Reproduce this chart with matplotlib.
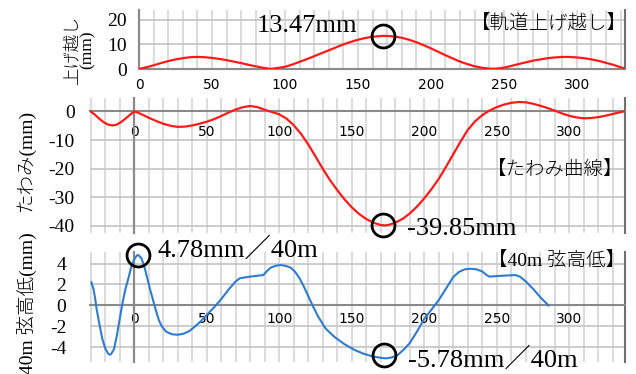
import matplotlib
matplotlib.use('Agg')
import matplotlib.pyplot as plt
import numpy as np

# ---------------- data ----------------
camber_x = [0, 5, 10, 15, 20, 25, 30, 35, 40, 45, 50, 55, 60, 65, 70, 75, 80, 85, 90, 95, 100, 105,
            110, 115, 120, 125, 130, 135, 140, 145, 150, 155, 160, 165, 168, 170, 175, 180, 185, 190,
            195, 200, 205, 210, 215, 220, 225, 230, 235, 240, 244, 248, 252, 256, 260, 265, 270, 275,
            280, 285, 290, 295, 300, 305, 310, 315, 320, 325, 330, 333]
camber_y = [0.0, 0.7, 1.5, 2.4, 3.2, 3.9, 4.4, 4.8, 4.9, 4.8, 4.5, 4.1, 3.6, 3.0, 2.4, 1.7, 1.1, 0.5,
            0.05, 0.4, 0.9, 1.8, 2.9, 4.0, 5.2, 6.4, 7.6, 8.8, 10.0, 11.0, 11.9, 12.6, 13.1, 13.4, 13.47,
            13.45, 13.2, 12.7, 11.9, 10.9, 9.7, 8.4, 7.0, 5.6, 4.3, 3.0, 2.0, 1.1, 0.5, 0.15, 0.1, 0.35,
            0.8, 1.4, 2.0, 2.7, 3.4, 3.9, 4.4, 4.7, 4.9, 4.9, 4.7, 4.4, 3.9, 3.3, 2.5, 1.7, 0.7, 0.2]

defl_x = [-30, -27, -24, -21, -18, -15, -12, -9, -6, -3, 0, 3, 6, 10, 15, 20, 25, 30, 35, 40, 45, 50,
          55, 60, 65, 70, 75, 80, 85, 90, 95, 100, 105, 110, 115, 120, 125, 130, 135, 140, 145, 150,
          155, 160, 165, 170, 173, 176, 180, 185, 190, 195, 200, 205, 210, 215, 220, 225, 230, 235,
          240, 245, 250, 255, 260, 265, 270, 275, 280, 285, 290, 295, 300, 305, 310, 315, 320, 325,
          330, 335, 338]
defl_y = [0.0, -1.2, -2.6, -3.8, -4.6, -4.9, -4.6, -3.7, -2.5, -1.2, 0.0, -0.5, -1.2, -2.2, -3.3, -4.3,
          -5.0, -5.4, -5.3, -4.9, -4.3, -3.6, -2.7, -1.6, -0.4, 0.7, 1.5, 1.9, 1.5, 0.6, -0.2, -1.0,
          -2.5, -4.8, -7.8, -11.5, -15.7, -20.0, -24.0, -27.5, -30.7, -33.5, -35.8, -37.6, -38.9,
          -39.7, -39.85, -39.6, -38.9, -37.6, -35.7, -33.3, -30.4, -27.2, -23.6, -19.4, -15.0, -10.6,
          -6.5, -3.5, -1.3, 0.3, 1.5, 2.4, 3.0, 3.3, 3.2, 2.7, 2.0, 1.2, 0.3, -0.7, -1.5, -2.1, -2.4,
          -2.3, -2.0, -1.5, -0.9, -0.3, 0.1]

chord_x = [-29.5, -28, -27, -26, -24, -22, -20, -18, -17, -16, -14, -12, -10, -8, -6, -4, -2, 0, 2, 3,
           5, 7, 9, 11, 13, 15, 17, 19, 22, 26, 30, 34, 38, 42, 46, 50, 55, 60, 65, 70, 73, 80, 89, 91,
           94, 98, 101, 105, 108, 111, 114, 117, 120, 123, 127, 132, 138, 145, 152, 158, 164, 170,
           174, 178, 182, 186, 190, 195, 200, 205, 210, 215, 220, 224, 228, 232, 236, 240, 243, 245,
           250, 256, 263, 266, 270, 275, 280, 285.7]
chord_y = [2.2, 1.5, 0.7, -0.3, -1.8, -3.2, -4.1, -4.6, -4.7, -4.65, -4.2, -2.9, -1.3, 0.3, 1.6, 2.6,
           3.7, 4.4, 4.8, 4.8, 4.5, 3.7, 2.6, 1.5, 0.5, -0.5, -1.4, -2.0, -2.5, -2.75, -2.8, -2.7,
           -2.45, -2.0, -1.5, -0.9, -0.2, 0.6, 1.5, 2.3, 2.6, 2.75, 2.9, 3.2, 3.6, 3.8, 3.86, 3.75,
           3.6, 3.2, 2.6, 1.8, 0.9, 0.0, -1.1, -2.2, -3.0, -3.7, -4.25, -4.6, -4.85, -5.0, -5.05,
           -4.95, -4.7, -4.2, -3.6, -2.5, -1.3, -0.4, 0.5, 1.6, 2.7, 3.2, 3.45, 3.5, 3.45, 3.25, 2.9,
           2.75, 2.8, 2.85, 2.9, 2.75, 2.3, 1.6, 0.8, 0.0]

xtick_vals = [0, 50, 100, 150, 200, 250, 300]
xtick_labels = ['0', '50', '100', '150', '200', '250', '300']

camber_yticks = [0, 10, 20]
camber_ylabels = ['0', '10', '20']
defl_yticks = [0, -10, -20, -30, -40]
defl_ylabels = ['0', '-10', '-20', '-30', '-40']
chord_yticks = [4, 2, 0, -2, -4]
chord_ylabels = ['4', '2', '0', '-2', '-4']

camber_peak = (167, 13.3)
defl_peak = (171.5, -39.6)
chord_max = (2.3, 4.8)
chord_min = (172, -4.72)

# ---------------- style ----------------
W, H = 636, 374
SERIF = ['Liberation Serif', 'Noto Sans CJK JP']
RED = '#ff1a1a'
BLUE = '#2e7bcf'
AXC = '#8a8a8a'


def fx(px):
    return px / W


def fy(py):
    return 1 - py / H


fig = plt.figure(figsize=(6.36, 3.74), dpi=100)


def make_axes(left, top, right, bottom):
    return fig.add_axes([fx(left), fy(bottom), fx(right) - fx(left), (bottom - top) / H])


def style(ax, xlim, ylim, yticks, ylabels, minor_start, xpad, ypad, xcolor):
    ax.set_xlim(*xlim)
    ax.set_ylim(*ylim)
    ax.set_xticks(xtick_vals)
    ax.set_xticklabels(xtick_labels, fontsize=6.5, color=xcolor, family='DejaVu Sans')
    ax.set_xticks(np.arange(minor_start, xlim[1], 10), minor=True)
    ax.set_yticks(yticks)
    ax.set_yticklabels(ylabels, fontsize=14, family=SERIF)
    ax.grid(axis='x', which='both', color='#d6d6d6', lw=1.2)
    ax.grid(axis='y', which='major', color='#c4c4c4', lw=1.2)
    ax.set_axisbelow(True)
    for s in ['top', 'left']:
        ax.spines[s].set_visible(False)
    ax.spines['right'].set_color('#6f6f6f')
    ax.spines['right'].set_linewidth(1.5)
    ax.spines['bottom'].set_position(('data', 0))
    ax.spines['bottom'].set_color(AXC)
    ax.spines['bottom'].set_linewidth(1.5)
    ax.axvline(0, color=AXC, lw=1.6, zorder=1.5, clip_on=False)
    ax.tick_params(axis='x', which='both', length=0, pad=xpad)
    ax.tick_params(axis='y', length=0, pad=ypad)
    ax.patch.set_alpha(0)


# Panel 1: camber
ax1 = make_axes(139, 10, 625, 69)
style(ax1, (0, 333), (0, 24), camber_yticks, camber_ylabels, 10, 6.5, 9, '#3c3c5c')
ax1.plot(camber_x, camber_y, color=RED, lw=1.6, zorder=3, solid_joinstyle='round')
ax1.plot([camber_peak[0]], [camber_peak[1]], 'o', mfc='none', mec='black', ms=16.5, mew=2.0,
         zorder=4, clip_on=False)

# Panel 2: deflection
ax2 = make_axes(90, 98, 625, 233)
style(ax2, (-30.5, 338.5), (-42.5, 4.7), defl_yticks, defl_ylabels, -30, 9.5, 11, '#3c3c5c')
ax2.plot(defl_x, defl_y, color=RED, lw=1.6, zorder=3, solid_joinstyle='round')
ax2.plot([defl_peak[0]], [defl_peak[1]], 'o', mfc='none', mec='black', ms=16.5, mew=2.0,
         zorder=4, clip_on=False)

# Panel 3: 40m chord versine
ax3 = make_axes(90, 252, 625, 362)
style(ax3, (-30.5, 338.5), (-5.4, 5.1), chord_yticks, chord_ylabels, -30, 5, 17, '#5a4433')
ax3.plot(chord_x, chord_y, color=BLUE, lw=1.5, zorder=3, solid_joinstyle='round')
for p in (chord_max, chord_min):
    ax3.plot([p[0]], [p[1]], 'o', mfc='none', mec='black', ms=16.5, mew=2.0, zorder=4, clip_on=False)

# ---------------- texts ----------------
fs_big = 19
fig.text(fx(257), fy(32), '13.47mm', fontsize=fs_big, family=SERIF, ha='left', va='baseline')
fig.text(fx(407), fy(235), '-39.85mm', fontsize=fs_big, family=SERIF, ha='left', va='baseline')
fig.text(fx(157), fy(257), '4.78mm／40m', fontsize=fs_big, family=SERIF, ha='left', va='baseline')
fig.text(fx(408), fy(367), '-5.78mm／40m', fontsize=fs_big, family=SERIF, ha='left', va='baseline')

fig.text(fx(627), fy(24), '【軌道上げ越し】', fontsize=14, family=SERIF, weight='light',
         ha='right', va='center')
fig.text(fx(623), fy(170), '【たわみ曲線】', fontsize=14, family=SERIF, weight='light',
         ha='right', va='center')
fig.text(fx(625), fy(262), '【40m 弦高低】', fontsize=14, family=SERIF, weight='light',
         ha='right', va='center')

fig.text(fx(80), fy(50), '上げ越し\n(mm)', fontsize=12.5, family=SERIF, weight='light', rotation=90,
         ha='center', va='center', linespacing=0.95)
fig.text(fx(25), fy(160), 'たわみ(mm)', fontsize=14, family=SERIF, weight='light', rotation=90,
         ha='center', va='center')
fig.text(fx(27), fy(303), '40m 弦高低(mm)', fontsize=14, family=SERIF, weight='light', rotation=90,
         ha='center', va='center')

fig.savefig('out.png', dpi=100)
